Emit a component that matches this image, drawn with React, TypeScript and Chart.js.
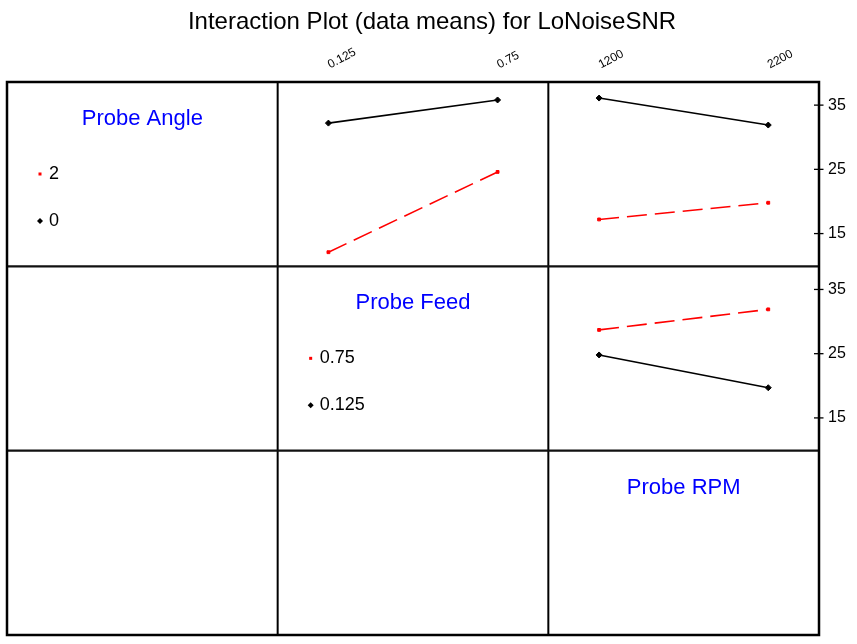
import React, { useEffect, useRef } from 'react';
import { Chart, registerables } from 'chart.js';

Chart.register(...registerables);

// ---------------- data ----------------
const chartTitle = 'Interaction Plot (data means) for LoNoiseSNR';
const factorNames = ['Probe Angle', 'Probe Feed', 'Probe RPM'];
const angleLevels = ['0', '2'];
const feedLevels = ['0.125', '0.75'];
const rpmLevels = ['1200', '2200'];
// Probe Angle x Probe Feed (row 1, col 2)
const angle0ByFeed = [32.2, 35.8];
const angle2ByFeed = [12.1, 24.6];
// Probe Angle x Probe RPM (row 1, col 3)
const angle0ByRpm = [36.1, 31.9];
const angle2ByRpm = [17.2, 19.8];
// Probe Feed x Probe RPM (row 2, col 3)
const feedLowByRpm = [24.8, 19.7];
const feedHighByRpm = [28.7, 31.9];
const yTicks = [15, 25, 35];
const yMin = 9.9;
const yMax = 38.6;

// ---------------- styles ----------------
const FONT = '"Liberation Sans", Arial, Helvetica, sans-serif';
const RED = 'rgb(255,0,0)';
const BLACK = '#000000';
const BLUE = 'rgb(0,0,255)';
const TITLE_PAD_TOP = 8;
const TITLE_SIZE = 24;
const GRID_TOP = 82;
const X_AXIS_H = GRID_TOP - (TITLE_PAD_TOP + TITLE_SIZE * 1.2);
const Y_AXIS_W = 38;

const pts = (vals: number[]) => vals.map((v, i) => ({ x: i, y: v }));

const lowStyle = {
  borderColor: BLACK,
  backgroundColor: BLACK,
  borderWidth: 1.6,
  pointStyle: 'rectRot',
  pointRadius: 3,
  pointBorderWidth: 1,
  pointBackgroundColor: BLACK,
  pointBorderColor: BLACK,
};
const highStyle = {
  borderColor: RED,
  backgroundColor: RED,
  borderWidth: 1.6,
  borderDash: [20, 8],
  pointStyle: 'rect',
  pointRadius: 2,
  pointBorderWidth: 1,
  pointBackgroundColor: RED,
  pointBorderColor: RED,
};

const zeroPadding = (s: any) => {
  s.paddingTop = 0;
  s.paddingBottom = 0;
  s.paddingLeft = 0;
  s.paddingRight = 0;
};

function xScale(levels: string[]) {
  const has = levels.length > 0;
  return {
    type: 'linear',
    position: 'top',
    stack: 'cols',
    stackWeight: 1,
    min: -0.3,
    max: 1.3,
    grid: { display: false, drawTicks: false },
    border: { display: false },
    afterBuildTicks: (s: any) => {
      s.ticks = levels.map((_, i) => ({ value: i }));
    },
    afterFit: (s: any) => {
      s.height = X_AXIS_H;
      zeroPadding(s);
    },
    ticks: {
      display: has,
      color: BLACK,
      font: { family: FONT, size: 12 },
      padding: 10,
      labelOffset: 7,
      minRotation: 28,
      maxRotation: 28,
      autoSkip: false,
      callback: (v: any) => levels[v] ?? '',
    },
  };
}

function yScale(withTicks: boolean) {
  return {
    type: 'linear',
    position: 'right',
    stack: 'rows',
    stackWeight: 1,
    min: yMin,
    max: yMax,
    grid: { display: false, drawTicks: false },
    border: { display: false },
    afterBuildTicks: (s: any) => {
      s.ticks = withTicks ? yTicks.map((v) => ({ value: v })) : [];
    },
    afterFit: (s: any) => {
      s.width = Y_AXIS_W;
      zeroPadding(s);
    },
    ticks: {
      display: withTicks,
      color: BLACK,
      font: { family: FONT, size: 16 },
      padding: 9,
    },
  };
}

const panelPlugin = {
  id: 'panels',
  afterDatasetsDraw(chart: any) {
    const ctx = chart.ctx as CanvasRenderingContext2D;
    const s = chart.scales;
    const cols = [s.xBlank, s.xFeed, s.xRpm];
    const rows = [s.yAngle, s.yFeed, s.yBlank];
    const ca = chart.chartArea;
    const line = (x1: number, y1: number, x2: number, y2: number) => {
      ctx.beginPath();
      ctx.moveTo(x1, y1);
      ctx.lineTo(x2, y2);
      ctx.stroke();
    };
    ctx.save();
    ctx.strokeStyle = BLACK;
    // vertical dividers
    ctx.lineWidth = 2;
    for (const c of [cols[1], cols[2]]) line(c.left, ca.top, c.left, ca.bottom);
    // horizontal dividers
    ctx.strokeStyle = '#111';
    ctx.lineWidth = 2.2;
    for (const r of [rows[1], rows[2]]) line(ca.left, r.top, ca.right, r.top);
    // outer frame
    ctx.strokeStyle = BLACK;
    ctx.lineWidth = 2.5;
    ctx.strokeRect(ca.left, ca.top, ca.right - ca.left, ca.bottom - ca.top);
    // y tick marks crossing the right frame
    ctx.lineWidth = 1.3;
    for (const r of [rows[0], rows[1]]) {
      for (const t of r.ticks) {
        const y = r.getPixelForValue(t.value);
        line(ca.right - 5, y, ca.right + 4.5, y);
      }
    }
    // factor names on diagonal
    ctx.fillStyle = BLUE;
    ctx.font = `22px ${FONT}`;
    ctx.textAlign = 'center';
    ctx.textBaseline = 'middle';
    factorNames.forEach((name, i) => {
      ctx.fillText(name, (cols[i].left + cols[i].right) / 2, rows[i].top + 37);
    });
    // legends for the two factors that draw lines
    const legends: [number, string[]][] = [
      [0, angleLevels],
      [1, feedLevels],
    ];
    ctx.font = `18px ${FONT}`;
    ctx.textAlign = 'left';
    for (const [i, levels] of legends) {
      const left = cols[i].left;
      const top = rows[i].top;
      // high level (red square)
      const yHigh = top + 92;
      ctx.fillStyle = RED;
      ctx.fillRect(left + 33 - 1.5, yHigh - 1.5, 3, 3);
      ctx.fillStyle = BLACK;
      ctx.fillText(levels[1], left + 42, yHigh);
      // low level (black diamond)
      const yLow = top + 139;
      ctx.beginPath();
      ctx.moveTo(left + 33, yLow - 3);
      ctx.lineTo(left + 36, yLow);
      ctx.lineTo(left + 33, yLow + 3);
      ctx.lineTo(left + 30, yLow);
      ctx.closePath();
      ctx.fill();
      ctx.fillText(levels[0], left + 42, yLow);
    }
    ctx.restore();
  },
};

export default function App() {
  const ref = useRef<HTMLCanvasElement>(null);
  useEffect(() => {
    if (!ref.current) return;
    const chart = new Chart(ref.current, {
      type: 'line',
      data: {
        datasets: [
          { label: 'Angle 0 / Feed', data: pts(angle0ByFeed), xAxisID: 'xFeed', yAxisID: 'yAngle', ...lowStyle },
          { label: 'Angle 2 / Feed', data: pts(angle2ByFeed), xAxisID: 'xFeed', yAxisID: 'yAngle', ...highStyle },
          { label: 'Angle 0 / RPM', data: pts(angle0ByRpm), xAxisID: 'xRpm', yAxisID: 'yAngle', ...lowStyle },
          { label: 'Angle 2 / RPM', data: pts(angle2ByRpm), xAxisID: 'xRpm', yAxisID: 'yAngle', ...highStyle },
          { label: 'Feed 0.125 / RPM', data: pts(feedLowByRpm), xAxisID: 'xRpm', yAxisID: 'yFeed', ...lowStyle },
          { label: 'Feed 0.75 / RPM', data: pts(feedHighByRpm), xAxisID: 'xRpm', yAxisID: 'yFeed', ...highStyle },
        ] as any,
      },
      options: {
        animation: false,
        responsive: false,
        events: [],
        layout: { padding: { left: 7, right: 0, top: 0, bottom: 9 } },
        plugins: {
          legend: { display: false },
          tooltip: { enabled: false },
          title: {
            display: true,
            text: chartTitle,
            color: BLACK,
            font: { family: FONT, size: TITLE_SIZE, weight: 'normal' },
            padding: { top: TITLE_PAD_TOP, bottom: 0 },
          },
        },
        scales: {
          // top axes are laid out in reverse order of definition
          xRpm: xScale(rpmLevels),
          xFeed: xScale(feedLevels),
          xBlank: xScale([]),
          yAngle: yScale(true),
          yFeed: yScale(true),
          yBlank: yScale(false),
        } as any,
      },
      plugins: [panelPlugin],
    } as any);
    return () => chart.destroy();
  }, []);
  return (
    <div style={{ position: 'absolute', left: 0, top: 0, width: 857, height: 644, background: '#fff' }}>
      <canvas ref={ref} width={857} height={644} style={{ display: 'block', width: 857, height: 644 }} />
    </div>
  );
}
